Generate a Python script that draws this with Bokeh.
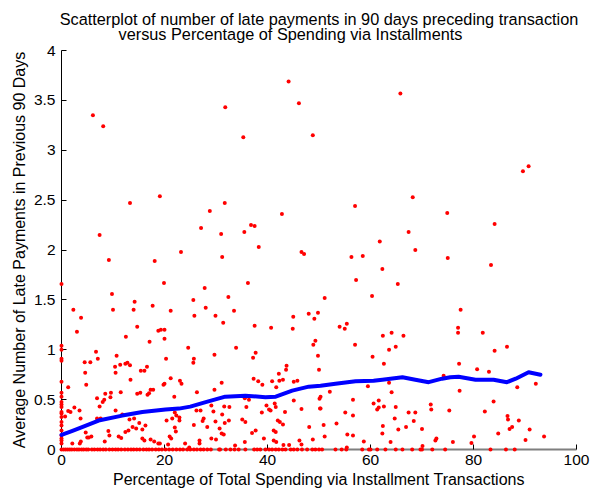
from bokeh.plotting import figure
from bokeh.models import Title, Range1d, FixedTicker
from bokeh.embed import file_html
from bokeh.resources import INLINE

# ---- data ----
# scattered points: percentage of spending via installments vs avg late payments
pct_upper = [6.1, 8.1, 31.8, 35.3, 44.1, 46.1, 48.8, 65.8, 90.7, 89.6, 13.3, 19.1, 31.7, 28.8, 42.8, 57.0,
             27.1, 31.0, 35.5, 36.8, 37.5, 7.4, 68.2, 74.9, 84.1, 67.4, 68.7, 75.0, 83.4, 62.3, 65.3, 61.8,
             38.3, 31.2, 46.6, 47.1, 56.3, 58.5, 57.2, 36.2, 27.8, 32.4, 51.1, 60.3, 23.2, 9.2, 18.1, 19.9,
             0.0, 9.8, 25.6]
late_upper = [3.35, 3.24, 3.43, 3.13, 3.69, 3.47, 3.15, 3.57, 2.84, 2.79, 2.47, 2.54, 2.47, 2.39, 2.36, 2.44,
              2.22, 2.16, 2.18, 2.25, 2.24, 2.15, 2.53, 2.37, 2.26, 2.18, 2.00, 1.92, 1.85, 1.81, 1.66, 2.085,
              2.03, 1.93, 1.98, 1.96, 1.93, 1.94, 1.70, 1.67, 1.62, 1.53, 1.52, 1.54, 1.98, 1.90, 1.89, 1.67,
              1.66, 1.56, 1.50]

pct_mid = [2.3, 3.8, 3.0, 10.0, 12.5, 14.0, 14.2, 14.7, 17.7, 20.0, 19.3, 20.0, 17.1, 21.2, 25.8, 24.6,
           18.8, 28.0, 33.5, 29.9, 31.4, 37.5, 40.7, 44.9, 45.0, 48.0, 49.1, 49.8, 54.0, 55.0, 55.4, 49.3,
           48.9, 33.9, 57.0, 62.4, 64.1, 66.4, 63.6, 64.9, 77.5, 77.0, 77.0, 81.8, 86.5, 0.0, 0.0,
           4.5, 5.6, 6.7, 7.05, 4.8, 4.6, 10.4, 10.5, 10.7, 11.4, 12.4, 13.3, 12.8, 13.4, 15.4, 16.1, 16.6,
           16.7, 14.7, 20.3, 21.2, 19.8, 20.0, 23.0, 23.3, 21.9, 17.3, 1.3, 15.3, 17.8, 17.0, 11.5, 8.5,
           9.6, 9.5, 6.9, 25.7, 25.6, 29.7, 37.7, 37.2, 49.8, 50.0, 43.7, 43.6, 42.2, 43.0, 42.3, 40.9,
           41.7, 37.3, 38.2, 39.0, 45.1, 45.8, 31.1, 29.7, 26.3, 35.6, 50.1, 60.4, 62.6, 63.6, 64.1, 59.5,
           52.1, 50.3, 74.2, 84.1, 77.2, 80.7, 83.0, 92.1, 88.5, 77.3, 0.0, 0.0, 0.0, 0.0, 0.0]
late_mid = [1.40, 1.32, 1.18, 1.40, 1.13, 1.40, 1.48, 1.23, 1.44, 1.20, 1.20, 1.11, 1.08, 1.39, 1.34, 1.02,
            1.19, 1.42, 1.39, 1.34, 1.27, 1.24, 1.22, 1.21, 1.33, 1.36, 1.31, 1.37, 1.23, 1.21, 1.26, 1.09,
            1.05, 1.02, 1.05, 1.14, 1.17, 1.14, 1.00, 1.03, 1.40, 1.22, 1.17, 1.17, 1.03, 1.04, 1.00,
            0.875, 0.875, 0.98, 0.91, 0.65, 0.77, 0.83, 0.77, 0.94, 0.85, 0.86, 0.845, 0.87, 0.70, 0.79, 0.79, 0.83,
            0.55, 0.56, 0.91, 0.715, 0.65, 0.66, 0.69, 0.66, 0.53, 0.60, 0.625, 0.57, 0.60, 0.565, 0.575, 0.56,
            0.57, 0.525, 0.515, 0.91, 0.87, 0.95, 0.97, 0.92, 0.94, 0.80, 0.84, 0.80, 0.76, 0.70, 0.69, 0.685,
            0.625, 0.71, 0.685, 0.65, 0.68, 0.69, 0.67, 0.60, 0.575, 0.515, 0.51, 0.93, 0.86, 0.67, 0.575, 0.635,
            0.58, 0.53, 0.74, 0.99, 0.86, 0.805, 0.78, 0.66, 0.625, 0.59, 0.91, 0.89, 0.68, 0.57, 0.53]

pct_low = [0.0, 0.0, 0.0, 0.0, 0.0, 0.0, 0.0, 0.0, 0.0, 0.0, 0.0, 0.0, 0.0,
           8.3, 8.0, 7.4, 2.5, 3.5, 1.3, 1.75, 3.7, 0.7, 7.6, 6.9, 10.5, 11.8, 13.2, 14.1, 15.1, 16.3, 15.7,
           13.8, 14.5, 13.0, 12.4, 11.1, 11.6, 9.1, 9.3, 8.4, 4.7, 5.0, 5.3, 5.8, 3.75, 3.55, 2.1, 17.3, 18.0,
           15.7, 16.1, 18.8, 19.1, 21.0, 21.3, 20.7, 22.0, 22.2, 22.9, 22.9, 20.4, 21.5, 22.0, 22.3, 24.8, 24.0,
           26.2, 27.0, 29.1, 31.6, 32.6, 29.5, 31.2, 35.9, 39.8, 40.3, 40.6, 41.4, 41.6, 38.9, 43.4, 46.6, 27.6,
           27.4, 28.3, 25.7, 29.9, 31.7, 32.5, 35.1, 35.7, 42.0, 42.4, 43.0, 30.7, 31.1, 31.5, 29.1, 30.0, 26.8,
           26.8, 37.0, 37.7, 35.6, 39.3, 41.2, 41.6, 41.2, 41.7, 43.1, 44.2, 33.7, 46.2, 48.1, 48.8, 50.2, 46.6,
           36.4, 45.1, 60.6, 61.6, 61.3, 61.6, 62.6, 64.9, 50.3, 55.1, 56.6, 56.6, 64.7, 67.4, 68.7, 68.4, 71.7,
           71.8, 75.3, 53.4, 50.9, 62.4, 65.4, 66.9, 70.0, 55.5, 56.6, 62.3, 51.1, 58.7, 63.9, 72.8, 72.6, 70.1,
           55.4, 83.9, 82.2, 86.6, 86.7, 88.8, 87.5, 87.0, 90.9, 84.8, 80.1, 93.7, 90.1, 76.0, 79.6]
late_low = [0.475, 0.425, 0.375, 0.325, 0.275, 0.19, 0.14, 0.09, 0.06, 0.45, 0.36, 0.24, 0.11,
            0.50, 0.475, 0.43, 0.42, 0.39, 0.385, 0.375, 0.31, 0.33, 0.31, 0.31, 0.39, 0.35, 0.30, 0.31, 0.265, 0.24, 0.20,
            0.225, 0.21, 0.19, 0.175, 0.13, 0.115, 0.185, 0.14, 0.08, 0.17, 0.12, 0.12, 0.13, 0.08, 0.06, 0.06, 0.10, 0.08,
            0.11, 0.09, 0.06, 0.06, 0.13, 0.11, 0.05, 0.22, 0.18, 0.32, 0.29, 0.29, 0.31, 0.37, 0.34, 0.02, 0.06,
            0.39, 0.39, 0.44, 0.43, 0.425, 0.38, 0.35, 0.425, 0.44, 0.40, 0.39, 0.46, 0.425, 0.37, 0.375, 0.405, 0.31,
            0.285, 0.225, 0.245, 0.28, 0.265, 0.29, 0.30, 0.275, 0.29, 0.275, 0.25, 0.21, 0.16, 0.15, 0.11, 0.10, 0.09,
            0.06, 0.165, 0.19, 0.075, 0.11, 0.19, 0.175, 0.09, 0.075, 0.045, 0.045, 0.04, 0.09, 0.225, 0.10, 0.41, 0.05,
            0.50, 0.49, 0.46, 0.49, 0.40, 0.42, 0.43, 0.425, 0.41, 0.37, 0.34, 0.50, 0.31, 0.37, 0.37, 0.285, 0.45,
            0.40, 0.39, 0.26, 0.245, 0.235, 0.20, 0.225, 0.205, 0.15, 0.14, 0.16, 0.13, 0.08, 0.075, 0.11, 0.09, 0.035,
            0.02, 0.48, 0.38, 0.335, 0.30, 0.29, 0.225, 0.205, 0.20, 0.16, 0.13, 0.13, 0.095, 0.075, 0.065]

# transactions with zero late payments (y = 0 row)
pct_zero = [0.0, 0.4, 0.8, 1.2, 1.6, 2.0, 2.5, 3.0, 3.4, 3.9, 4.3, 4.8, 5.2, 5.9, 6.4, 7.0, 7.5, 8.1, 8.6,
            9.3, 9.9, 10.5, 11.0, 11.6, 12.3, 12.9, 13.5, 14.0, 14.6, 15.2, 15.9, 16.5, 17.0, 17.6, 18.3, 18.9,
            19.5, 20.2, 20.9, 21.6, 22.3, 23.0, 23.6, 24.4, 25.0, 25.7, 26.3, 27.0, 27.6, 28.3, 29.0, 30.6, 30.8,
            31.9, 32.8, 33.6, 34.4, 35.7, 37.4, 38.0, 38.6, 39.6, 40.3, 40.9, 41.6, 42.2, 42.9, 43.5, 44.5, 45.1,
            45.8, 46.7, 47.7, 48.7, 49.3, 50.0, 50.6, 53.2, 54.4, 55.3, 58.4, 59.7, 60.0, 61.3, 62.9, 64.9, 66.2,
            68.1, 69.7, 70.0, 72.0, 74.5, 83.3, 86.3, 88.0]
late_zero = [0.0] * len(pct_zero)

# smoothed trend line
trend_pct = [0, 2, 4, 7.2, 11.8, 15.7, 20.2, 22.8, 25.0, 28.0, 31.8, 35.7, 39.6, 41.6, 44.8, 48.0, 50.3,
             53.2, 57.1, 60.6, 62.3, 66.2, 68.7, 71.3, 73.9, 75.5, 77.1, 80.4, 83.9, 86.5, 88.2, 90.7, 93.0]
trend_late = [0.147, 0.185, 0.225, 0.29, 0.34, 0.375, 0.40, 0.41, 0.43, 0.475, 0.53, 0.54, 0.525, 0.53,
              0.59, 0.63, 0.64, 0.66, 0.685, 0.69, 0.70, 0.725, 0.70, 0.675, 0.71, 0.725, 0.73, 0.70, 0.70,
              0.675, 0.71, 0.775, 0.75]

x_ticks = [0, 20, 40, 60, 80, 100]
y_ticks = [0, 0.5, 1, 1.5, 2, 2.5, 3, 3.5, 4]

title_line1 = "Scatterplot of number of late payments in 90 days preceding transaction"
title_line2 = "versus Percentage of Spending via Installments"

FONT = "Liberation Sans"

p = figure(width=590, height=494, output_backend="svg", toolbar_location=None,
           x_range=Range1d(0, 100), y_range=Range1d(0, 4),
           min_border_left=61, min_border_right=14, min_border_bottom=45, min_border_top=10)
p.outline_line_color = None
p.grid.visible = False
p.background_fill_color = "white"
p.border_fill_color = "white"

# the title block is left-aligned line by line, so the second line is indented to sit centred
p.add_layout(Title(text=title_line1 + "\n" + "\u00a0" * 13 + title_line2, align="center",
                   text_font=FONT, text_font_size="16.3px", text_font_style="normal",
                   text_color="black", text_line_height=0.85, standoff=15), "above")

for ax in (p.xaxis[0], p.yaxis[0]):
    ax.major_tick_in = 5
    ax.major_tick_out = 0
    ax.minor_tick_in = 0
    ax.minor_tick_out = 0
    ax.major_label_text_font = FONT
    ax.major_label_text_font_size = "15.5px"
    ax.major_label_text_color = "black"
    ax.axis_label_text_font = FONT
    ax.axis_label_text_font_size = "16px"
    ax.axis_label_text_font_style = "normal"
    ax.axis_label_text_color = "black"
    ax.major_tick_line_color = "black"

p.xaxis.ticker = FixedTicker(ticks=x_ticks)
p.yaxis.ticker = FixedTicker(ticks=y_ticks)
p.xaxis.axis_label = "Percentage of Total Spending via Installment Transactions"
p.yaxis.axis_label = "Average Number of Late Payments in Previous 90 Days"
p.xaxis.axis_line_color = "#7f7f7f"
p.xaxis.axis_line_width = 2
p.yaxis.axis_line_color = "black"
p.xaxis.major_label_standoff = 5
p.yaxis.major_label_standoff = 6
p.xaxis.axis_label_standoff = 3
p.yaxis.axis_label_standoff = 3

xs = pct_upper + pct_mid + pct_low + pct_zero
ys = late_upper + late_mid + late_low + late_zero
sc = p.scatter(xs, ys, marker="circle", size=4, fill_color="#ff0000", line_color=None)
sc.level = "overlay"
ln = p.line(trend_pct, trend_late, line_color="#0000ff", line_width=4, line_join="round", line_cap="round")
ln.level = "overlay"

open("out.html", "w").write(file_html(p, INLINE))
